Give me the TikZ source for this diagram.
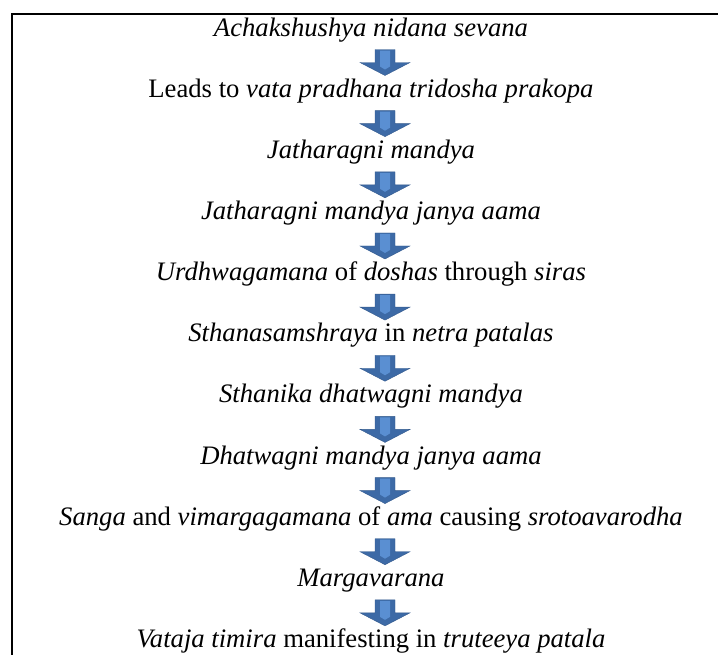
\documentclass[tikz,border=0pt]{standalone}
\usepackage{fontspec}
\setmainfont{Liberation Serif}
\definecolor{arrdark}{HTML}{3D6AA6}
\definecolor{arrlight}{HTML}{5A8FD2}
\begin{document}
\begin{tikzpicture}[x=0.75pt,y=-0.75pt,
  lbl/.style={anchor=base, inner sep=0pt, font=\fontsize{20}{24}\selectfont},
  frameline/.style={line width=1.9pt, black},
  arrowbody/.style={fill=arrdark, draw=arrdark!85!black, line width=0.3pt},
  arrowshine/.style={fill=arrlight},
  downarrow/.pic={
    \path[arrowbody] (-10,0) -- (10,0) -- (10,13) -- (25,13) -- (0,26) -- (-25,13) -- (-10,13) -- cycle;
    \path[arrowshine] (-5,1) -- (5,1) -- (5,17) -- (0,20) -- (-5,17) -- cycle;
  }]
\useasboundingbox (0,0) rectangle (718,654);
\draw[frameline] (12,670) -- (12,14) -- (730,14);
\node[lbl] (t1) at (371,36) {\textit{Achakshushya nidana sevana}};
\node[lbl] (t2) at (371,97.15) {Leads to \textit{vata pradhana tridosha prakopa}};
\node[lbl] (t3) at (371,158.3) {\textit{Jatharagni mandya}};
\node[lbl] (t4) at (371,219.45) {\textit{Jatharagni mandya janya aama}};
\node[lbl] (t5) at (371,280.6) {\textit{Urdhwagamana} of \textit{doshas} through \textit{siras}};
\node[lbl] (t6) at (371,341.75) {\textit{Sthanasamshraya} in \textit{netra patalas}};
\node[lbl] (t7) at (371,402.9) {\textit{Sthanika dhatwagni mandya}};
\node[lbl] (t8) at (371,464.05) {\textit{Dhatwagni mandya janya aama}};
\node[lbl] (t9) at (371,525.2) {\textit{Sanga} and \textit{vimargagamana} of \textit{ama} causing \textit{srotoavarodha}};
\node[lbl] (t10) at (371,586.35) {\textit{Margavarana}};
\node[lbl] (t11) at (371,647.5) {\textit{Vataja timira} manifesting in \textit{truteeya patala}};
\foreach \i in {1,...,10}{
  \pic (a\i) at (385,{36+61.15*(\i-1)+13.5}) {downarrow};
}
\end{tikzpicture}
\end{document}
